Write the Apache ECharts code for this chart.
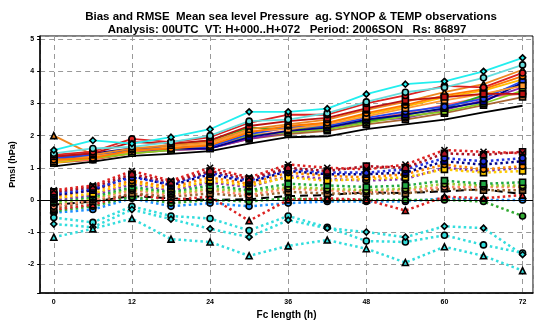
<!DOCTYPE html>
<html>
<head>
<meta charset="utf-8">
<script src="https://cdn.jsdelivr.net/npm/echarts@6/dist/echarts.min.js"></script>
<style>
  html, body { margin: 0; padding: 0; background: #fff; }
  #main { width: 536px; height: 325px; }
</style>
</head>
<body>
<div id="main"></div>
<script>
// forecast lengths (h)
var hours = [0, 6, 12, 18, 24, 30, 36, 42, 48, 54, 60, 66, 72];

// RMSE curves (solid)
var rmseCyan    = [1.55, 1.85, 1.75, 1.95, 2.2, 2.74, 2.74, 2.84, 3.29, 3.6, 3.69, 4.0, 4.42];
var rmseTurq    = [1.45, 1.6, 1.65, 1.8, 2.0, 2.45, 2.5, 2.7, 3.05, 3.35, 3.5, 3.8, 4.2];
var rmseRed     = [1.4, 1.5, 1.9, 1.8, 1.95, 2.4, 2.65, 2.65, 3.0, 3.25, 3.55, 3.5, 3.95];
var rmseDarkRed = [1.35, 1.45, 1.8, 1.75, 1.85, 2.3, 2.45, 2.55, 2.85, 3.1, 3.2, 3.3, 3.3];
var rmseOrange  = [2.0, 1.4, 1.6, 1.7, 1.8, 2.2, 2.35, 2.5, 2.8, 3.05, 3.35, 3.6, 4.05];
var rmseOrange2 = [1.25, 1.3, 1.55, 1.6, 1.7, 2.1, 2.3, 2.4, 2.7, 2.95, 3.25, 3.45, 3.85];
var rmseOrange3 = [1.2, 1.35, 1.5, 1.65, 1.75, 2.15, 2.2, 2.35, 2.6, 2.85, 3.1, 3.3, 3.55];
var rmseBlue    = [1.3, 1.4, 1.55, 1.65, 1.65, 2.05, 2.25, 2.3, 2.55, 2.75, 2.9, 3.15, 3.7];
var rmseNavy    = [1.35, 1.45, 1.6, 1.6, 1.6, 1.95, 2.15, 2.25, 2.5, 2.65, 2.85, 3.05, 3.65];
var rmseGreen   = [1.3, 1.4, 1.55, 1.7, 1.85, 2.25, 2.2, 2.3, 2.45, 2.65, 2.85, 3.25, 3.6];
var rmseLime    = [1.2, 1.3, 1.45, 1.55, 1.7, 2.0, 2.1, 2.2, 2.4, 2.6, 2.75, 3.0, 3.4];
var rmsePurple  = [1.25, 1.35, 1.5, 1.55, 1.6, 1.9, 2.1, 2.2, 2.45, 2.55, 2.8, 3.1, 3.5];
var rmseGold    = [1.15, 1.3, 1.45, 1.6, 1.7, 2.05, 2.25, 2.4, 2.65, 2.9, 3.2, 3.4, 3.75];
var rmseSalmon  = [1.2, 1.25, 1.5, 1.6, 1.65, 2.0, 2.15, 2.3, 2.5, 2.7, 2.95, 3.2, 3.3];
var rmseBrown   = [1.15, 1.25, 1.45, 1.55, 1.6, 1.9, 2.05, 2.15, 2.35, 2.5, 2.7, 2.95, 3.2];
var rmseBlack   = [1.04, 1.19, 1.37, 1.43, 1.52, 1.75, 1.95, 1.98, 2.2, 2.35, 2.5, 2.72, 2.93];

// bias curves (dotted)
var biasRed      = [0.3, 0.45, 0.9, 0.6, 1.0, 0.7, 1.1, 1.0, 0.95, 1.1, 1.55, 1.5, 1.45];
var biasDarkRed  = [0.25, 0.4, 0.8, 0.55, 0.9, 0.65, 1.0, 0.9, 1.05, 1.0, 1.45, 1.4, 1.5];
var biasBlue     = [0.2, 0.35, 0.7, 0.5, 0.85, 0.6, 0.95, 0.85, 0.85, 0.95, 1.3, 1.2, 1.3];
var biasNavy     = [0.15, 0.3, 0.75, 0.45, 0.8, 0.55, 0.9, 0.8, 0.8, 0.85, 1.2, 1.1, 1.2];
var biasOrange   = [0.1, 0.3, 0.6, 0.4, 0.7, 0.5, 0.85, 0.75, 0.7, 0.8, 1.1, 0.95, 1.05];
var biasGold     = [0.05, 0.2, 0.55, 0.35, 0.6, 0.45, 0.7, 0.6, 0.65, 0.7, 0.95, 0.85, 0.9];
var biasPurple   = [0.0, 0.15, 0.5, 0.3, 0.55, 0.4, 0.75, 0.65, 0.6, 0.65, 1.0, 0.9, 1.0];
var biasGreen    = [-0.05, 0.1, 0.4, 0.25, 0.45, 0.3, 0.5, 0.45, 0.4, 0.45, 0.6, 0.5, 0.55];
var biasLime     = [-0.1, 0.05, 0.35, 0.2, 0.35, 0.25, 0.4, 0.35, 0.3, 0.35, 0.5, 0.45, 0.45];
var biasSalmon   = [-0.2, 0.0, 0.3, 0.15, 0.3, 0.15, 0.35, 0.3, 0.25, 0.3, 0.4, 0.4, 0.4];
var biasBrown    = [-0.25, -0.05, 0.2, 0.1, 0.2, 0.1, 0.25, 0.2, 0.2, 0.2, 0.35, 0.3, 0.3];
var biasRed2     = [-0.3, -0.15, 0.2, 0.0, 0.1, -0.65, 0.0, 0.05, 0.0, -0.33, 0.1, 0.05, 0.15];
var biasGreen2   = [-0.35, -0.2, 0.1, -0.1, 0.0, -0.05, 0.05, 0.0, 0.0, 0.0, 0.0, -0.05, -0.5];
var biasTeal     = [-0.4, -0.3, 0.05, -0.2, -0.1, -0.2, -0.1, -0.05, -0.05, -0.05, 0.05, 0.0, 0.0];
var biasCyanA    = [-1.16, -0.9, -0.58, -1.22, -1.31, -1.74, -1.43, -1.25, -1.52, -1.95, -1.46, -1.74, -2.2];
var biasCyanB    = [-0.75, -0.85, -0.3, -0.6, -0.9, -1.16, -0.63, -0.88, -1.0, -1.16, -0.82, -0.88, -1.7];
var biasCyanC    = [-0.55, -0.7, -0.2, -0.5, -0.58, -0.95, -0.5, -0.85, -1.28, -1.31, -1.1, -1.4, -1.65];
var biasMean     = [-0.15, -0.05, 0.12, 0.05, 0.0, 0.02, 0.12, 0.15, 0.24, 0.21, 0.27, 0.33, 0.18];

var X_SYM = 'path://M0,0L10,10M10,0L0,10';
var FONT = 'Liberation Sans, Arial';

function pairs(vals) {
  return hours.map(function (h, i) { return [h, vals[i]]; });
}

function rmse(vals, color, symbol) {
  return {
    type: 'line',
    data: pairs(vals),
    symbol: symbol || 'none',
    symbolSize: 6,
    showSymbol: !!symbol,
    lineStyle: { color: color, width: 1.8 },
    itemStyle: { color: color, borderColor: '#000', borderWidth: 1.6 },
    silent: true
  };
}

function bias(vals, color, symbol) {
  return {
    type: 'line',
    data: pairs(vals),
    symbol: symbol || 'none',
    symbolSize: 6,
    showSymbol: !!symbol,
    lineStyle: { color: color, width: 2.5, type: [2.5, 3], cap: 'butt' },
    itemStyle: { color: symbol === X_SYM ? 'none' : color, borderColor: '#000', borderWidth: 1.6 },
    silent: true
  };
}

var chart = echarts.init(document.getElementById('main'), null, { renderer: 'canvas' });

var meanSeries = bias(biasMean, '#000', null);
meanSeries.lineStyle = { color: '#000', width: 2, type: [8, 5] };
meanSeries.markLine = {
  silent: true,
  symbol: 'none',
  label: { show: false },
  lineStyle: { color: '#000', width: 1.2, type: 'solid' },
  data: [{ yAxis: 0 }]
};

var option = {
  backgroundColor: '#fff',
  animation: false,
  title: [{
    text: 'Bias and RMSE  Mean sea level Pressure  ag. SYNOP & TEMP observations',
    left: 286, top: 6, textAlign: 'center',
    textStyle: { fontFamily: FONT, fontSize: 11.5, fontWeight: 'bold', color: '#000' }
  }, {
    text: 'Analysis: 00UTC  VT: H+000..H+072   Period: 2006SON   Rs: 86897',
    left: 282, top: 19, textAlign: 'center',
    textStyle: { fontFamily: FONT, fontSize: 11.5, fontWeight: 'bold', color: '#000' }
  }],
  grid: {
    left: 37, right: 1, top: 36, bottom: 28,
    show: true, borderColor: '#000', borderWidth: 1
  },
  xAxis: {
    type: 'value',
    min: -2.1, max: 73.6,
    minInterval: 12, maxInterval: 12,
    name: 'Fc length (h)',
    nameLocation: 'middle', nameGap: 16,
    nameTextStyle: { fontFamily: FONT, fontSize: 10, fontWeight: 'bold', color: '#000' },
    axisLine: { onZero: false, lineStyle: { color: '#000', width: 1.5 } },
    axisTick: { show: false },
    axisLabel: {
      fontSize: 7, fontWeight: 'bold', color: '#000', margin: 5, fontFamily: FONT,
      formatter: function (v) { return v % 12 === 0 ? String(v) : ''; }
    },
    splitLine: { lineStyle: { color: '#999', type: [5, 4], width: 1 } }
  },
  yAxis: {
    type: 'value',
    min: -2.9, max: 5.1,
    minInterval: 1, maxInterval: 1,
    name: 'Pmsl (hPa)',
    nameLocation: 'middle', nameGap: 22, nameRotate: 90,
    nameTextStyle: { fontFamily: FONT, fontSize: 9, fontWeight: 'bold', color: '#000' },
    axisLine: { show: true, onZero: false, lineStyle: { color: '#000', width: 1.5 } },
    axisTick: { show: true, length: 3, lineStyle: { color: '#000' } },
    axisLabel: {
      fontSize: 7, fontWeight: 'bold', color: '#000', margin: 6, fontFamily: FONT,
      formatter: function (v) { return Math.abs(v - Math.round(v)) < 1e-6 ? String(Math.round(v)) : ''; }
    },
    splitLine: { lineStyle: { color: '#999', type: [5, 4], width: 1 } }
  },
  series: [
    // bias first so RMSE draws on top where they meet
    meanSeries,
    bias(biasTeal, '#1e90ff', 'circle'),
    bias(biasGreen2, '#33aa33', 'circle'),
    bias(biasRed2, '#dd2222', 'triangle'),
    bias(biasBrown, '#996633', 'rect'),
    bias(biasSalmon, '#ff8866', 'circle'),
    bias(biasLime, '#99cc33', 'circle'),
    bias(biasGreen, '#22aa44', 'rect'),
    bias(biasPurple, '#8833aa', 'circle'),
    bias(biasGold, '#ffcc00', 'rect'),
    bias(biasOrange, '#ff8800', 'circle'),
    bias(biasNavy, '#000088', 'rect'),
    bias(biasBlue, '#2233dd', 'circle'),
    bias(biasDarkRed, '#aa1122', 'rect'),
    bias(biasRed, '#dd2222', X_SYM),
    bias(biasCyanC, '#33dddd', 'circle'),
    bias(biasCyanB, '#33dddd', 'diamond'),
    bias(biasCyanA, '#33dddd', 'triangle'),

    rmse(rmseBlack, '#000', null),
    rmse(rmseBrown, '#aa6633', 'rect'),
    rmse(rmseSalmon, '#ff6666', 'circle'),
    rmse(rmseGold, '#ffbb00', 'rect'),
    rmse(rmsePurple, '#8822aa', 'circle'),
    rmse(rmseLime, '#88cc22', 'rect'),
    rmse(rmseGreen, '#22aa22', 'circle'),
    rmse(rmseNavy, '#000088', 'rect'),
    rmse(rmseBlue, '#2244ee', 'circle'),
    rmse(rmseOrange3, '#ff9933', 'rect'),
    rmse(rmseOrange2, '#ff7700', 'circle'),
    rmse(rmseOrange, '#ee8822', 'triangle'),
    rmse(rmseDarkRed, '#bb1111', 'rect'),
    rmse(rmseRed, '#dd2222', 'circle'),
    rmse(rmseTurq, '#66dddd', 'circle'),
    rmse(rmseCyan, '#22eeee', 'diamond')
  ]
};

chart.setOption(option);
</script>
</body>
</html>
